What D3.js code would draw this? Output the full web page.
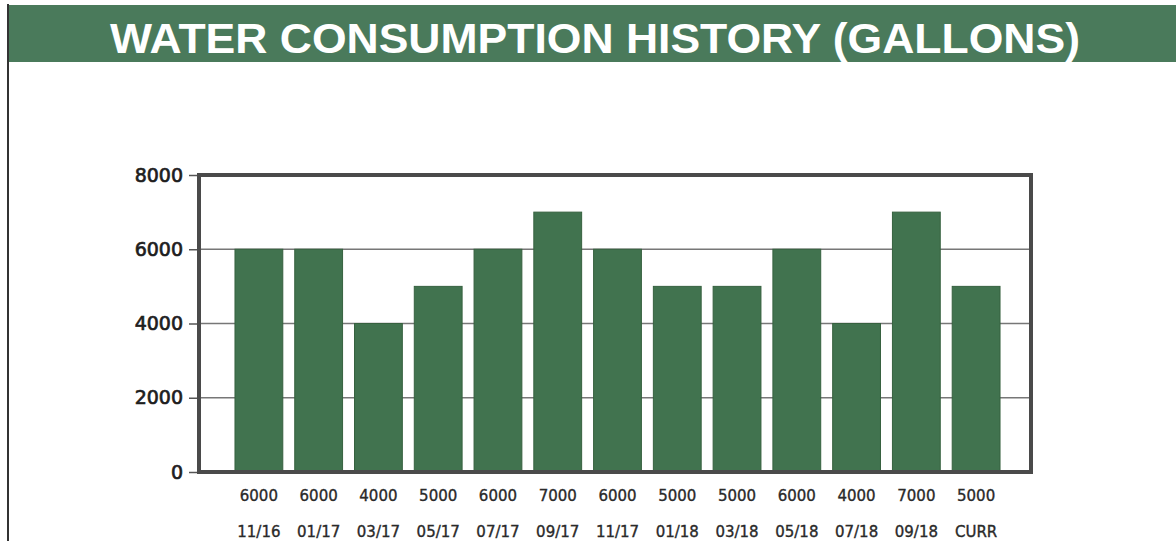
<!DOCTYPE html>
<html>
<head>
<meta charset="utf-8">
<script src="https://cdn.jsdelivr.net/npm/d3@7"></script>
<style>
  html, body { margin: 0; padding: 0; background: #fff; }
  svg { display: block; }
</style>
</head>
<body>
<svg id="chart" width="1176" height="541"></svg>
<script>
const title = "WATER CONSUMPTION HISTORY (GALLONS)";
const categories = ["11/16","01/17","03/17","05/17","07/17","09/17","11/17","01/18","03/18","05/18","07/18","09/18","CURR"];
const values = [6000,6000,4000,5000,6000,7000,6000,5000,5000,6000,4000,7000,5000];
const yTicks = [0,2000,4000,6000,8000];

const svg = d3.select("#chart");
const W = 1176, H = 541;
const green = "#4a7a5b";
const barColor = "#41734f";

// page left edge line
svg.append("rect").attr("x", 7).attr("y", 4).attr("width", 2).attr("height", H).attr("fill", "#333");

// banner
svg.append("rect").attr("x", 9).attr("y", 5).attr("width", W - 9).attr("height", 57).attr("fill", green);
svg.append("text")
  .attr("x", 595).attr("y", 53)
  .attr("text-anchor", "middle")
  .attr("font-family", "Liberation Sans, Arial, sans-serif")
  .attr("font-weight", "bold")
  .attr("font-size", 43)
  .attr("fill", "#fff")
  .attr("textLength", 970)
  .attr("lengthAdjust", "spacingAndGlyphs")
  .text(title);

// plot frame
const frame = {left: 199, top: 175, right: 1031, bottom: 472};

const y = d3.scaleLinear().domain([0, 8000]).range([frame.bottom, frame.top]);
const x = d3.scaleBand().domain(categories).range([229, 1006]).paddingInner(0.2).paddingOuter(0.1);

// gridlines
svg.append("g").selectAll("line")
  .data(yTicks.filter(t => t > 0 && t < 8000))
  .join("line")
  .attr("x1", frame.left).attr("x2", frame.right)
  .attr("y1", d => y(d)).attr("y2", d => y(d))
  .attr("stroke", "#777").attr("stroke-width", 1.5);

// bars
svg.append("g").selectAll("rect")
  .data(values)
  .join("rect")
  .attr("x", (d, i) => x(categories[i]))
  .attr("width", x.bandwidth())
  .attr("y", d => y(d))
  .attr("height", d => y(0) - y(d))
  .attr("fill", barColor)
  .attr("stroke", "#36613f")
  .attr("stroke-width", 1);

// frame border
svg.append("rect")
  .attr("x", frame.left).attr("y", frame.top)
  .attr("width", frame.right - frame.left).attr("height", frame.bottom - frame.top)
  .attr("fill", "none").attr("stroke", "#4a4a4a").attr("stroke-width", 4);

// y axis
const yAxis = d3.axisLeft(y).tickValues(yTicks).tickSize(8).tickPadding(6).tickFormat(d3.format("d"));
const gy = svg.append("g").attr("transform", `translate(${frame.left - 2},0)`).call(yAxis);
gy.select(".domain").remove();
gy.selectAll(".tick line").attr("stroke", "#555").attr("stroke-width", 1.5);
gy.selectAll(".tick text")
  .attr("font-family", "DejaVu Sans, Verdana, sans-serif")
  .attr("font-size", 19)
  .attr("fill", "#1e1e1e")
  .attr("stroke", "#1e1e1e").attr("stroke-width", 0.7);

// value labels
svg.append("g").selectAll("text")
  .data(values)
  .join("text")
  .attr("x", (d, i) => x(categories[i]) + x.bandwidth() / 2)
  .attr("y", 501)
  .attr("text-anchor", "middle")
  .attr("font-family", "DejaVu Sans, Verdana, sans-serif")
  .attr("font-size", 15)
  .attr("fill", "#2a2a2a")
  .attr("stroke", "#2a2a2a").attr("stroke-width", 0.35)
  .text(d => d);

// category labels
const xAxis = d3.axisBottom(x).tickSize(0).tickPadding(0);
const gx = svg.append("g").attr("transform", `translate(0,${526})`).call(xAxis);
gx.select(".domain").remove();
gx.selectAll(".tick text")
  .attr("font-family", "DejaVu Sans, Verdana, sans-serif")
  .attr("font-size", 15)
  .attr("fill", "#2a2a2a")
  .attr("stroke", "#2a2a2a").attr("stroke-width", 0.35);
</script>
</body>
</html>
